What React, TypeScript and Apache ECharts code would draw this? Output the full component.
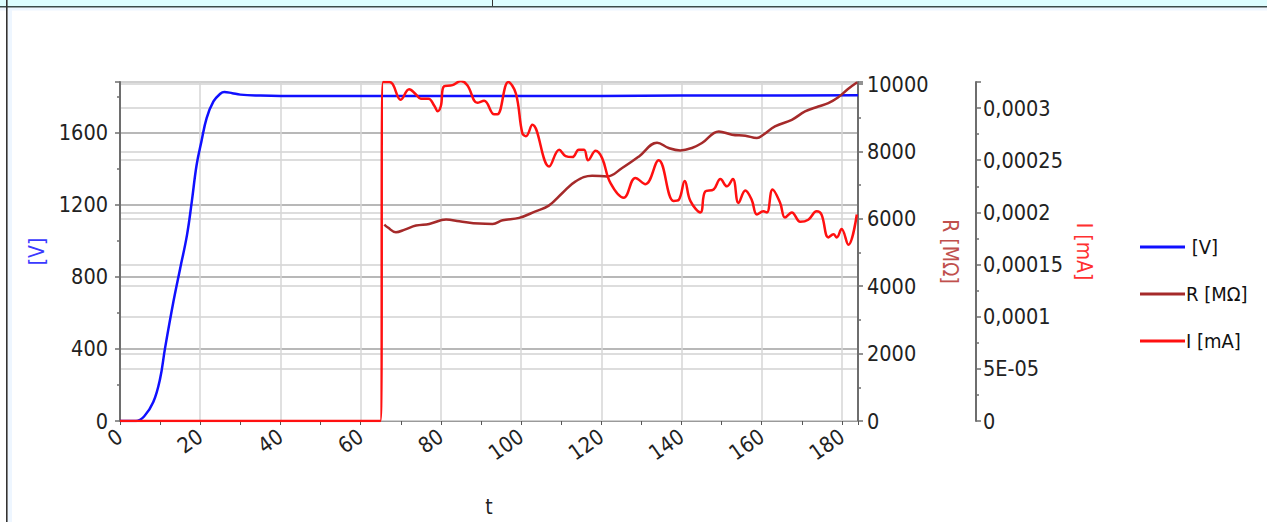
import React, { useEffect, useRef } from "react";
import * as echarts from "echarts";

// ---- data ----
const vPoints: [number, number][] = [
  [0, 0], [4, 0], [6, 25], [8.3, 105], [10, 235], [11.2, 400], [13.3, 660], [15, 846],
  [16.7, 1031], [17.9, 1217], [19.1, 1420], [20.3, 1550], [21.6, 1680], [23.3, 1772],
  [25, 1815], [26, 1825], [28, 1818], [30, 1810], [35, 1805], [40, 1803], [60, 1803],
  [80, 1803], [100, 1802], [120, 1803], [140, 1805], [160, 1805], [184, 1806],
];

const rPoints: [number, number][] = [
  [65.9, 5828], [66.8, 5740], [68.8, 5600], [71, 5680], [73.8, 5800], [77.1, 5849],
  [81.3, 5976], [84.6, 5926], [89.6, 5858], [92.9, 5849], [95.4, 5956], [99.5, 6027],
  [103.6, 6222], [106.9, 6391], [110.3, 6767], [113.6, 7111], [117.7, 7280], [121.5, 7259],
  [125.2, 7508], [129.4, 7852], [133.9, 8260], [136.8, 8101], [139.7, 8030], [142.6, 8101],
  [145.1, 8249], [149.3, 8593], [152.6, 8495], [155.9, 8465], [158.8, 8397], [160.4, 8495],
  [163.3, 8741], [167.5, 8939], [170.8, 9185], [174.1, 9333], [176.6, 9434], [179, 9600],
  [181.5, 9850], [183.8, 10050],
];

const iPoints: [number, number][] = [
  [0, 0], [64.9, 0], [65.6, 0.000325], [67.2, 0.000325], [68, 0.000323], [70, 0.000308],
  [72.1, 0.000318], [73.8, 0.000313], [75, 0.000309], [76.9, 0.000309], [78.4, 0.000302],
  [79.2, 0.000297], [80, 0.000302], [80.8, 0.000321], [82.9, 0.000322], [85, 0.000326],
  [86.6, 0.000322], [89.1, 0.000305], [90.8, 0.000307], [93.3, 0.000294], [94.1, 0.000294],
  [96.8, 0.000325], [98.7, 0.000314], [100.3, 0.000276], [101.2, 0.000273], [102.8, 0.000284],
  [107, 0.000244], [109.5, 0.00026], [111.1, 0.000254], [112.8, 0.000253], [114.4, 0.00026],
  [115.7, 0.00026], [116.7, 0.00025], [118.6, 0.000259], [120.2, 0.000252], [122.3, 0.000228],
  [125.6, 0.000214], [128.5, 0.000233], [131, 0.000227], [134.3, 0.00025], [138, 0.000211],
  [139.3, 0.000212], [140.8, 0.00023], [142.2, 0.000211], [144.7, 0.0002], [145.9, 0.00022],
  [148, 0.000222], [149.7, 0.000232], [151.3, 0.000225], [152.8, 0.000232], [154.2, 0.000209],
  [155.9, 0.000221], [157.5, 0.000212], [158.8, 0.000198], [160.4, 0.000201], [161.3, 0.0002],
  [162.7, 0.000222], [164.6, 0.000209], [165.8, 0.000195], [167.5, 0.0002], [169.6, 0.000191],
  [171.6, 0.000193], [173.7, 0.000201], [174.9, 0.000198], [176.6, 0.000176], [177.9, 0.000179],
  [178.7, 0.000176], [179.9, 0.000184], [181.6, 0.000169], [183.7, 0.000198],
];

const seriesNames = [" [V]", "R [MΩ]", "I [mA]"];
const axisNames = ["[V]", "R [MΩ]", "I [mA]"];
const xName = "t";

const FONT = "'DejaVu Sans Condensed', 'DejaVu Sans', 'Liberation Sans', sans-serif";

function fmtI(v: number): string {
  if (v === 0) return "0";
  if (v > 0 && v < 0.0001) {
    const e = v.toExponential(0); // "5e-5"
    const [m, ex] = e.split("e");
    const n = parseInt(ex, 10);
    const sign = n < 0 ? "-" : "+";
    const abs = Math.abs(n);
    return m + "E" + sign + (abs < 10 ? "0" + abs : String(abs));
  }
  return String(parseFloat(v.toPrecision(6))).replace(".", ",");
}
const fmtPlain = (v: number) => String(Math.round(v));

export default function App() {
  const ref = useRef<HTMLDivElement>(null);
  useEffect(() => {
    if (!ref.current) return;
    const chart = echarts.init(ref.current, undefined, { renderer: "svg" });
    const axisLineStyle = { color: "#6e6e6e", width: 2 };
    const tickStyle = { color: "#6e6e6e", width: 1.5 };
    const LBL = 21.5;
    const NAME = 21;
    chart.setOption({
      animation: false,
      backgroundColor: "#ffffff",
      textStyle: { fontFamily: FONT },
      graphic: [
        { type: "rect", shape: { x: 0, y: 0, width: 1267, height: 6 }, style: { fill: "#dcfdff" }, silent: true },
        { type: "rect", shape: { x: 0, y: 7.5, width: 1267, height: 3 }, style: { fill: "#eef6ff" }, silent: true },
        { type: "rect", shape: { x: 8, y: 7.5, width: 4, height: 515 }, style: { fill: "#eef6ff" }, silent: true },
        { type: "line", shape: { x1: 0, y1: 6.8, x2: 1267, y2: 6.8 }, style: { stroke: "#3a4a4a", lineWidth: 1.6 }, silent: true },
        { type: "line", shape: { x1: 6.8, y1: 0, x2: 6.8, y2: 522 }, style: { stroke: "#333333", lineWidth: 1.6 }, silent: true },
        { type: "line", shape: { x1: 492.5, y1: 0, x2: 492.5, y2: 6 }, style: { stroke: "#333333", lineWidth: 1 }, silent: true },
      ],
      grid: { left: 120, right: 409, top: 82, bottom: 93, containLabel: false },
      legend: {
        orient: "vertical",
        left: 1135,
        top: 232,
        icon: "rect",
        itemWidth: 45,
        itemHeight: 3,
        itemGap: 27,
        textStyle: { fontSize: 20, color: "#111", fontFamily: FONT, padding: [0, 0, 0, -4] },
        data: seriesNames,
      },
      xAxis: {
        type: "value",
        min: 0,
        max: 184,
        interval: 20,
        name: xName,
        nameLocation: "middle",
        nameGap: 75,
        nameTextStyle: { fontSize: NAME, color: "#222", fontFamily: FONT },
        axisLine: { show: true, onZero: false, lineStyle: { color: "#9a9a9a", width: 1 } },
        axisTick: { show: true, length: 4, lineStyle: { color: "#555" } },
        minorTick: { show: true, splitNumber: 2, length: 4, lineStyle: { color: "#555" } },
        axisLabel: {
          rotate: 35,
          margin: 13,
          fontSize: LBL,
          color: "#222",
          fontFamily: FONT,
          showMaxLabel: false,
          formatter: fmtPlain,
        },
        splitLine: { show: true, lineStyle: { color: "#d6d6d6", width: 1.5 } },
      },
      yAxis: [
        {
          type: "value",
          position: "left",
          min: 0,
          max: 1880,
          interval: 400,
          name: axisNames[0],
          nameLocation: "middle",
          nameGap: 64,
          nameRotate: 90,
          nameTextStyle: { fontSize: NAME, color: "#3a3aff", fontFamily: FONT },
          axisLine: { show: true, lineStyle: axisLineStyle },
          axisTick: { show: true, length: 5, lineStyle: tickStyle },
          minorTick: { show: true, splitNumber: 2, length: 3, lineStyle: tickStyle },
          axisLabel: { margin: 12, fontSize: LBL, color: "#222", fontFamily: FONT, showMaxLabel: false, formatter: fmtPlain },
          splitLine: { show: true, lineStyle: { color: "#a0a0a0", width: 1.5 } },
        },
        {
          type: "value",
          position: "right",
          offset: 0,
          min: 0,
          max: 10060,
          interval: 2000,
          name: axisNames[1],
          nameLocation: "middle",
          nameGap: 78,
          nameRotate: -90,
          nameTextStyle: { fontSize: NAME, color: "#c0504d", fontFamily: FONT },
          axisLine: { show: true, lineStyle: axisLineStyle },
          axisTick: { show: true, length: 5, lineStyle: tickStyle },
          minorTick: { show: true, splitNumber: 2, length: 3, lineStyle: tickStyle },
          axisLabel: { margin: 9, fontSize: LBL, color: "#222", fontFamily: FONT, showMaxLabel: false, formatter: fmtPlain },
          splitLine: { show: true, lineStyle: { color: "#d2d2d2", width: 1.5 } },
        },
        {
          type: "value",
          position: "right",
          offset: 118,
          min: 0,
          max: 0.000325,
          interval: 0.00005,
          name: axisNames[2],
          nameLocation: "middle",
          nameGap: 95,
          nameRotate: -90,
          nameTextStyle: { fontSize: NAME, color: "#ff3030", fontFamily: FONT },
          axisLine: { show: true, lineStyle: axisLineStyle },
          axisTick: { show: true, length: 5, lineStyle: tickStyle },
          minorTick: { show: true, splitNumber: 2, length: 3, lineStyle: tickStyle },
          axisLabel: {
            margin: 7,
            fontSize: LBL,
            color: "#222",
            fontFamily: FONT,
            showMaxLabel: false,
            formatter: (v: number) => fmtI(v),
          },
          splitLine: { show: true, lineStyle: { color: "#d2d2d2", width: 1.5 } },
        },
      ],
      series: [
        {
          name: seriesNames[0],
          type: "line",
          yAxisIndex: 0,
          data: vPoints,
          symbol: "none",
          smooth: 0.4,
          lineStyle: { color: "#1010ff", width: 2.5 },
          itemStyle: { color: "#1010ff" },
        },
        {
          name: seriesNames[1],
          type: "line",
          yAxisIndex: 1,
          data: rPoints,
          symbol: "none",
          smooth: 0.4,
          lineStyle: { color: "#a52a2a", width: 2.5 },
          itemStyle: { color: "#a52a2a" },
        },
        {
          name: seriesNames[2],
          type: "line",
          yAxisIndex: 2,
          data: iPoints,
          symbol: "none",
          smooth: 0.4,
          lineStyle: { color: "#ff1010", width: 2.5 },
          itemStyle: { color: "#ff1010" },
        },
      ],
    });
    return () => chart.dispose();
  }, []);
  return (
    <div
      ref={ref}
      style={{ position: "absolute", left: 0, top: 0, width: 1267, height: 522 }}
    />
  );
}
